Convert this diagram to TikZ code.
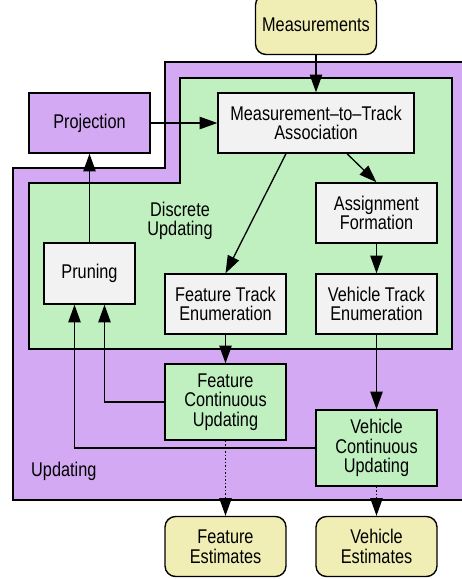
\documentclass[tikz,border=0pt]{standalone}
\usepackage{fontspec}
\setmainfont{Liberation Sans}[FakeStretch=0.82]
\usepackage{tikz}
\usetikzlibrary{arrows.meta}
\usetikzlibrary{positioning}

\definecolor{updpurple}{RGB}{210,169,242}
\definecolor{discgreen}{RGB}{192,240,192}
\definecolor{ioyellow}{RGB}{240,238,180}
\definecolor{boxgray}{RGB}{242,242,242}

\tikzset{
  box/.style={draw, line width=0.8pt, fill=boxgray, align=center, inner sep=0pt,
    minimum width=2.42cm, minimum height=1.2cm},
  iobox/.style={box, fill=ioyellow, rounded corners=6pt},
  arr/.style={line width=0.75pt, -{Triangle[length=10pt, width=7pt]}},
  region/.style={draw, line width=0.8pt}
}

\begin{document}
\begin{tikzpicture}[x=0.02cm, y=-0.02cm, font=\fontsize{11.3}{11.2}\selectfont]
    \useasboundingbox (0,0) rectangle (461,579);
    % updating and discrete updating regions
    \filldraw[region, fill=updpurple] (470,62) -- (165,62) -- (165,168) -- (13,168)
      -- (13,500) -- (470,500);
    \filldraw[region, fill=discgreen] (180,78) -- (452,78) -- (452,349) -- (29,349)
      -- (29,183) -- (180,183) -- cycle;
    \node at (180,221) [align=center] {Discrete\\Updating};
    \node[anchor=west] at (25,471) {Updating};

    % blocks
    \node[iobox] (meas) at (316,24.5) {Measurements};
    \node[box, fill=updpurple] (proj) at (89.5,123) {Projection};
    \node[box, minimum width=3.92cm] (mta) at (316,123) {Measurement--to--Track\\Association};
    \node[box] (asgn) at (376.5,213) {Assignment\\Formation};
    \node[box, minimum width=1.82cm, minimum height=1.22cm] (prune) at (89.5,273.5) {Pruning};
    \node[box] (fte) at (225.5,304) {Feature Track\\Enumeration};
    \node[box] (vte) at (376.5,304) {Vehicle Track\\Enumeration};
    \node[box, fill=discgreen, minimum height=1.52cm] (fcu) at (225.5,402) {Feature\\Continuous\\Updating};
    \node[box, fill=discgreen, minimum height=1.52cm] (vcu) at (376.5,448) {Vehicle\\Continuous\\Updating};
    \node[iobox] (fest) at (225.5,546.5) {Feature\\Estimates};
    \node[iobox] (vest) at (376.5,546.5) {Vehicle\\Estimates};

    % connectors
    \draw[arr] (meas) -- (mta);
    \draw[arr] (proj) -- (mta);
    \draw[arr] ([xshift=-0.6cm]mta.south) -- (fte.north);
    \draw[arr] ([xshift=0.62cm]mta.south) -- (asgn.north);
    \draw[arr] (asgn) -- (vte);
    \draw[arr] (vte) -- (vcu);
    \draw[arr] (fte) -- (fcu);
    \draw[arr] (prune) -- (proj);
    \draw[arr] (fcu.west) -| ([xshift=0.3cm]prune.south);
    \draw[arr] (vcu.west) -| ([xshift=-0.3cm]prune.south);
    \draw[arr, dash pattern=on 0.8pt off 1.2pt] (fcu) -- (fest);
    \draw[arr, dash pattern=on 0.8pt off 1.2pt] (vcu) -- (vest);
\end{tikzpicture}
\end{document}
